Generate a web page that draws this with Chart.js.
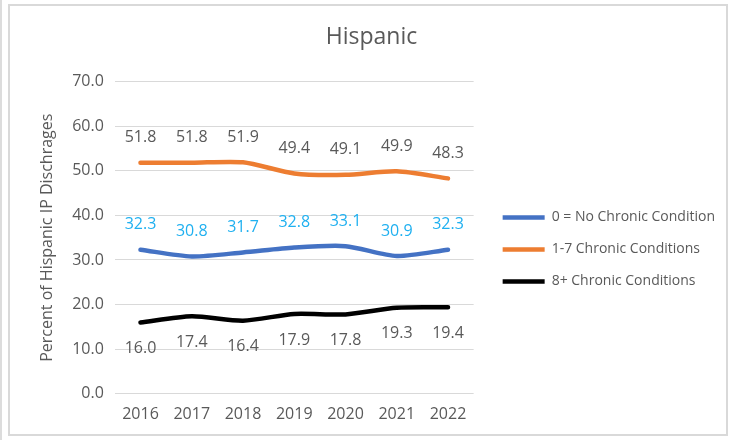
<!DOCTYPE html>
<html>
<head>
<meta charset="utf-8">
<script src="https://cdn.jsdelivr.net/npm/chart.js@4/dist/chart.umd.min.js"></script>
<style>
  html, body { margin: 0; padding: 0; background: #ffffff; }
  #wrap { position: relative; width: 736px; height: 440px; overflow: hidden; }
  #frame { position: absolute; left: 8px; top: 4px; width: 720px; height: 432px; border: 2px solid #d9d9d9; box-sizing: border-box; }
  #edge { position: absolute; left: 0px; top: 0px; width: 2px; height: 440px; background: #dcdcdc; }
  canvas { position: absolute; left: 0; top: 0; }
</style>
</head>
<body>
<div id="wrap">
  <div id="edge"></div>
  <div id="frame"></div>
  <canvas id="c" width="736" height="440"></canvas>
</div>
<script>
const years = ['2016', '2017', '2018', '2019', '2020', '2021', '2022'];
const noChronic = [32.3, 30.8, 31.7, 32.8, 33.1, 30.9, 32.3];
const chronic1to7 = [51.8, 51.8, 51.9, 49.4, 49.1, 49.9, 48.3];
const chronic8plus = [16.0, 17.4, 16.4, 17.9, 17.8, 19.3, 19.4];
const seriesNames = ['0 = No Chronic Condition', '1-7 Chronic Conditions', '8+ Chronic Conditions'];
const yTicks = [0, 10, 20, 30, 40, 50, 60, 70];

const FONT = '"Open Sans", "Liberation Sans", sans-serif';
const GRAY = '#595959';

const labelPlugin = {
  id: 'valueLabels',
  afterDatasetsDraw(chart) {
    const ctx = chart.ctx;
    ctx.save();
    ctx.font = '16px ' + FONT;
    ctx.textAlign = 'center';
    ctx.textBaseline = 'middle';
    chart.data.datasets.forEach((ds, i) => {
      const meta = chart.getDatasetMeta(i);
      meta.data.forEach((pt, j) => {
        ctx.fillStyle = ds.labelColor;
        ctx.fillText(ds.data[j].toFixed(1), pt.x, pt.y + ds.labelOffset);
      });
    });
    ctx.restore();
  }
};

// move the (full-height) right legend block down so it sits beside the middle of the plot
const legendShift = {
  id: 'legendShift',
  afterLayout(chart) {
    const lg = chart.legend;
    if (lg) { lg.top += 32; lg.bottom += 32; }
  }
};

const common = { borderWidth: 4.5, tension: 0.25, borderCapStyle: 'round', borderJoinStyle: 'round', fill: false, pointRadius: 0, pointHoverRadius: 0 };

new Chart(document.getElementById('c'), {
  type: 'line',
  data: {
    labels: years,
    datasets: [
      Object.assign({ label: seriesNames[0], data: noChronic, borderColor: '#4472C4', backgroundColor: '#4472C4', labelColor: '#1FB0F0', labelOffset: -25 }, common),
      Object.assign({ label: seriesNames[1], data: chronic1to7, borderColor: '#ED7D31', backgroundColor: '#ED7D31', labelColor: GRAY, labelOffset: -25 }, common),
      Object.assign({ label: seriesNames[2], data: chronic8plus, borderColor: '#000000', backgroundColor: '#000000', labelColor: GRAY, labelOffset: 26 }, common)
    ]
  },
  options: {
    responsive: false,
    animation: false,
    devicePixelRatio: 1,
    events: [],
    layout: { padding: { left: 18, right: 11, top: 0, bottom: 5 } },
    scales: {
      x: {
        offset: true,
        grid: { display: false, drawTicks: false },
        border: { display: false },
        ticks: { color: GRAY, font: { family: FONT, size: 16 }, padding: 11, maxRotation: 0, autoSkip: false }
      },
      y: {
        min: 0, max: 70,
        afterBuildTicks(scale) { scale.ticks = yTicks.map(v => ({ value: v })); },
        grid: { color: '#d9d9d9', lineWidth: 1, drawTicks: false },
        border: { display: false },
        ticks: { color: GRAY, font: { family: FONT, size: 16 }, padding: 11, callback: v => Number(v).toFixed(1) },
        title: { display: true, text: 'Percent of Hispanic IP Dischrages', color: GRAY, font: { family: FONT, size: 16 }, padding: { top: 20, bottom: 4 } }
      },
      spacer: {
        position: 'right',
        display: true,
        grid: { display: false },
        border: { display: false },
        ticks: { display: false },
        afterFit(scale) { scale.width = 11; }
      }
    },
    plugins: {
      title: {
        display: true,
        text: 'Hispanic',
        color: GRAY,
        font: { family: FONT, size: 23, weight: 'normal' },
        padding: { top: 24, bottom: 30 }
      },
      legend: {
        position: 'right',
        maxWidth: 320,
        labels: {
          usePointStyle: true,
          pointStyle: 'line',
          pointStyleWidth: 42,
          color: GRAY,
          font: { family: FONT, size: 14 },
          padding: 18
        }
      },
      tooltip: { enabled: false }
    }
  },
  plugins: [labelPlugin, legendShift]
});
</script>
</body>
</html>
